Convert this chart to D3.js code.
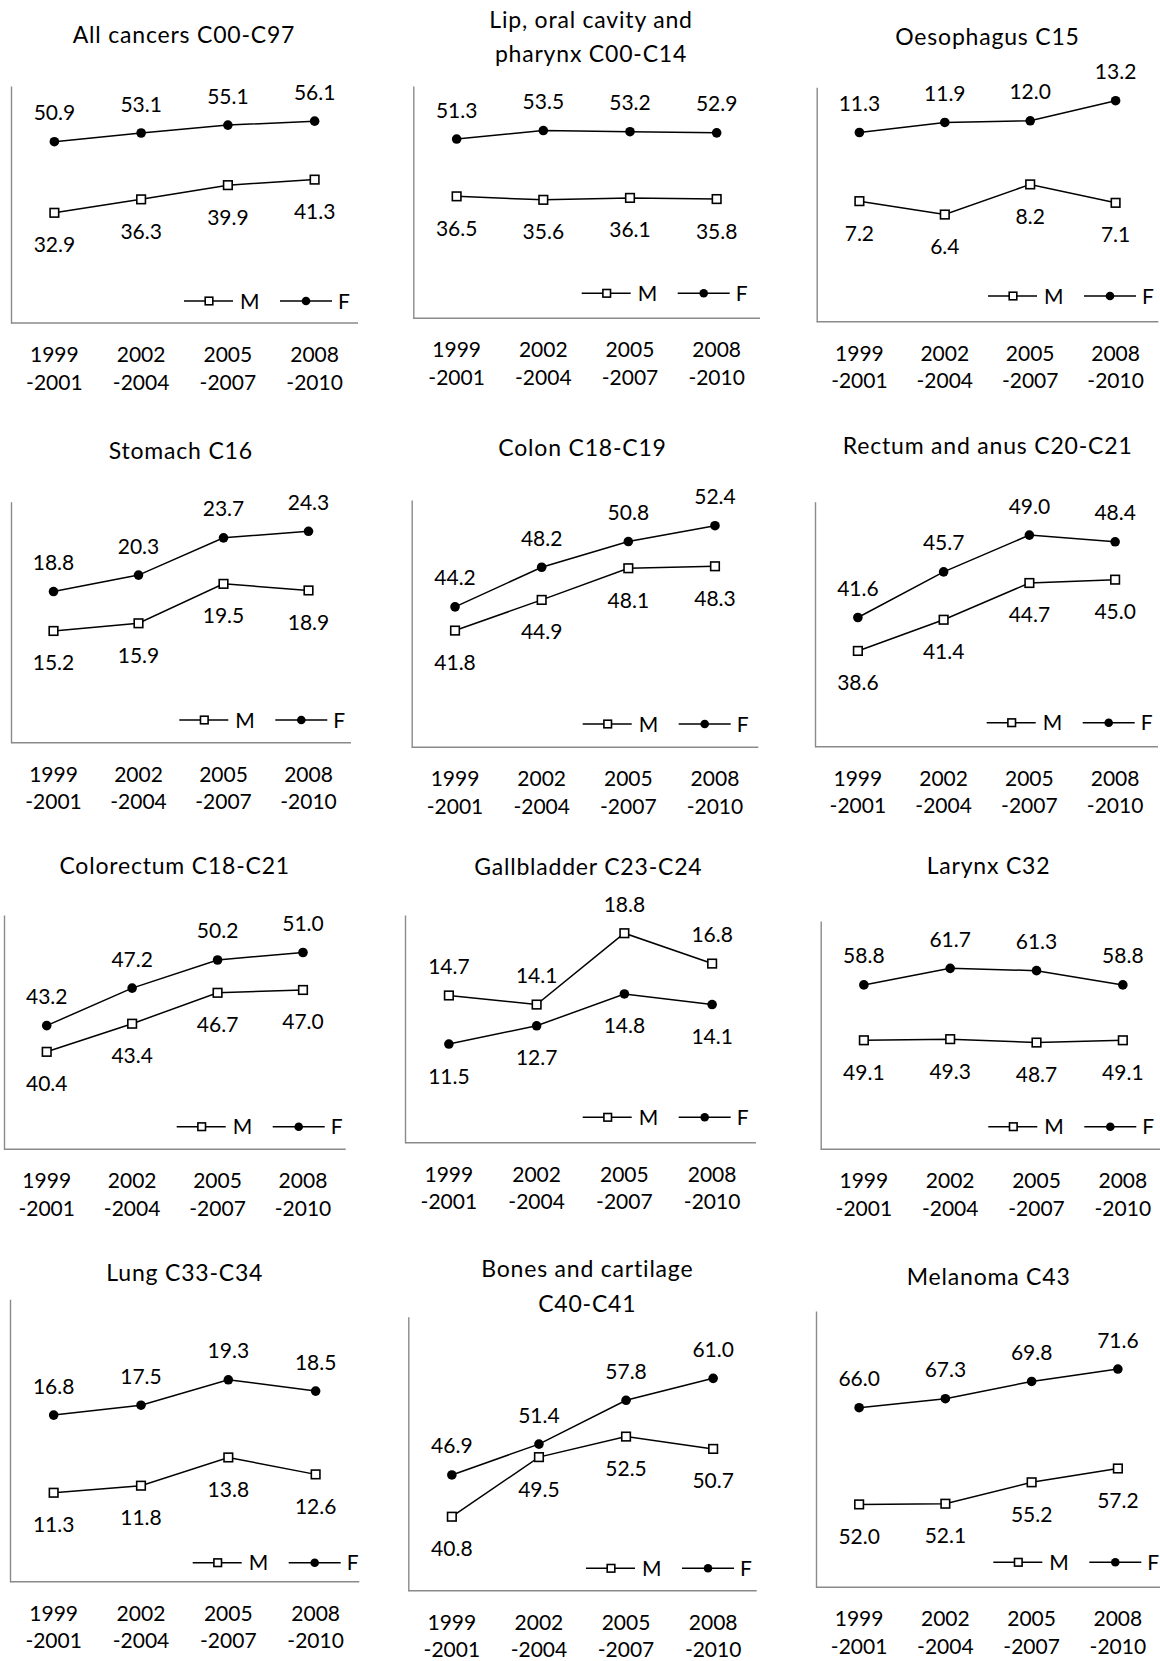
<!DOCTYPE html>
<html>
<head>
<meta charset="utf-8">
<script src="https://cdn.jsdelivr.net/npm/d3@7"></script>
<style>
  html, body { margin: 0; padding: 0; background: #fff; }
  svg { display: block; }
  text { font-family: Lato, "Open Sans", sans-serif; fill: #000; }
</style>
</head>
<body>
<svg id="chart" width="1160" height="1661"></svg>
<script>
// ---------- DATA ----------
const periods = ["1999-2001", "2002-2004", "2005-2007", "2008-2010"];
const tickLine1 = ["1999", "2002", "2005", "2008"];
const tickLine2 = ["-2001", "-2004", "-2007", "-2010"];
const seriesNames = ["M", "F"];

const siteTitles = [
  ["All cancers C00-C97"],
  ["Lip, oral cavity and", "pharynx C00-C14"],
  ["Oesophagus C15"],
  ["Stomach C16"],
  ["Colon C18-C19"],
  ["Rectum and anus C20-C21"],
  ["Colorectum C18-C21"],
  ["Gallbladder C23-C24"],
  ["Larynx C32"],
  ["Lung C33-C34"],
  ["Bones and cartilage", "C40-C41"],
  ["Melanoma C43"]
];

const maleValues = [
  [32.9, 36.3, 39.9, 41.3],
  [36.5, 35.6, 36.1, 35.8],
  [7.2, 6.4, 8.2, 7.1],
  [15.2, 15.9, 19.5, 18.9],
  [41.8, 44.9, 48.1, 48.3],
  [38.6, 41.4, 44.7, 45.0],
  [40.4, 43.4, 46.7, 47.0],
  [14.7, 14.1, 18.8, 16.8],
  [49.1, 49.3, 48.7, 49.1],
  [11.3, 11.8, 13.8, 12.6],
  [40.8, 49.5, 52.5, 50.7],
  [52.0, 52.1, 55.2, 57.2]
];

const femaleValues = [
  [50.9, 53.1, 55.1, 56.1],
  [51.3, 53.5, 53.2, 52.9],
  [11.3, 11.9, 12.0, 13.2],
  [18.8, 20.3, 23.7, 24.3],
  [44.2, 48.2, 50.8, 52.4],
  [41.6, 45.7, 49.0, 48.4],
  [43.2, 47.2, 50.2, 51.0],
  [11.5, 12.7, 14.8, 14.1],
  [58.8, 61.7, 61.3, 58.8],
  [16.8, 17.5, 19.3, 18.5],
  [46.9, 51.4, 57.8, 61.0],
  [66.0, 67.3, 69.8, 71.6]
];

const yDomains = [
  [5, 65], [5, 65], [0, 14],
  [5, 27], [30, 55], [30, 52],
  [30, 55], [5, 20], [30, 70],
  [5, 25], [30, 70], [40, 80]
];

// ---------- LAYOUT (positions only) ----------
const layout = [
  {L: 11,    R: 358,    T: 86,     B: 323,    tx: 184,   ty: [43],              lx: 184,   ly: 301},
  {L: 413.3, R: 760,    T: 86,     B: 318.3,  tx: 591,   ty: [28.3, 61.7],      lx: 581.7, ly: 293.3},
  {L: 816.7, R: 1158.3, T: 87.3,   B: 321.7,  tx: 987.5, ty: [45],              lx: 988,   ly: 296},
  {L: 11,    R: 351,    T: 501.7,  B: 742.7,  tx: 180.8, ty: [459],             lx: 179.3, ly: 720},
  {L: 411.7, R: 758.3,  T: 500,    B: 747.3,  tx: 582.5, ty: [456],             lx: 582.7, ly: 724},
  {L: 815,   R: 1158,   T: 501.7,  B: 746.7,  tx: 987.7, ty: [454.3],           lx: 986.7, ly: 722.7},
  {L: 4,     R: 345.7,  T: 915,    B: 1149.3, tx: 174.7, ty: [874.3],           lx: 176.7, ly: 1126.7},
  {L: 405,   R: 756,    T: 915,    B: 1142.7, tx: 588.3, ty: [875],             lx: 582.7, ly: 1117.3},
  {L: 820.7, R: 1166,   T: 921,    B: 1149.3, tx: 988.5, ty: [874.3],           lx: 988.3, ly: 1126.7},
  {L: 10,    R: 359.3,  T: 1299.3, B: 1581.7, tx: 184.8, ty: [1281],            lx: 192.7, ly: 1562.7},
  {L: 408.3, R: 756.7,  T: 1316.7, B: 1590.7, tx: 587.3, ty: [1277.3, 1311.7],  lx: 586,   ly: 1568.3},
  {L: 816,   R: 1161,   T: 1311,   B: 1587.3, tx: 988.7, ty: [1285],            lx: 993.3, ly: 1562.3}
];

const AXIS_COLOR = "#8a8a8a";
const LINE_COLOR = "#000";

// ---------- DRAW ----------
const svg = d3.select("#chart");

siteTitles.forEach((titleLines, i) => {
  const p = layout[i];
  const g = svg.append("g");
  const x = d3.scalePoint().domain(periods).range([p.L, p.R]).padding(0.5);
  const y = d3.scaleLinear().domain(yDomains[i]).range([p.B, p.T]);

  // title
  titleLines.forEach((t, k) => {
    g.append("text")
      .attr("x", p.tx).attr("y", p.ty[k])
      .attr("text-anchor", "middle")
      .style("font-size", "23px")
      .style("letter-spacing", "0.8px")
      .text(t);
  });

  // axes (lines only)
  const ax = g.append("g").attr("transform", `translate(0,${p.B})`)
    .call(d3.axisBottom(x).tickValues([]).tickSizeOuter(0));
  ax.select(".domain").attr("d", `M${p.L},0H${Math.min(p.R, 1160)}`);
  g.append("g").attr("transform", `translate(${p.L},0)`)
    .call(d3.axisLeft(y).tickValues([]).tickSizeOuter(0));
  g.selectAll(".domain").attr("stroke", AXIS_COLOR).attr("stroke-width", 1.4);

  // tick labels
  periods.forEach((c, j) => {
    const t = g.append("text")
      .attr("text-anchor", "middle")
      .style("font-size", "21px");
    t.append("tspan").attr("x", x(c)).attr("y", p.B + 39).text(tickLine1[j]);
    t.append("tspan").attr("x", x(c)).attr("y", p.B + 66.5).text(tickLine2[j]);
  });

  const mVals = maleValues[i], fVals = femaleValues[i];
  const mUpper = d3.mean(mVals) > d3.mean(fVals);
  const series = [
    {name: "M", vals: mVals, upper: mUpper},
    {name: "F", vals: fVals, upper: !mUpper}
  ];

  const line = d3.line().x((d, j) => x(periods[j])).y(d => y(d));

  series.forEach(s => {
    g.append("path")
      .attr("d", line(s.vals))
      .attr("fill", "none")
      .attr("stroke", LINE_COLOR)
      .attr("stroke-width", 1.5);

    s.vals.forEach((v, j) => {
      const cx = x(periods[j]), cy = y(v);
      if (s.name === "M") {
        g.append("rect")
          .attr("x", cx - 4.3).attr("y", cy - 4.3)
          .attr("width", 8.6).attr("height", 8.6)
          .attr("fill", "#fff").attr("stroke", "#000").attr("stroke-width", 1.6);
      } else {
        g.append("circle")
          .attr("cx", cx).attr("cy", cy).attr("r", 4.8)
          .attr("fill", "#000");
      }
      g.append("text")
        .attr("x", cx)
        .attr("y", s.upper ? cy - 21.5 : cy + 39.5)
        .attr("text-anchor", "middle")
        .style("font-size", "21px")
        .text(v.toFixed(1));
    });
  });

  // legend
  const lg = g.append("g").attr("transform", `translate(${p.lx},${p.ly})`);
  lg.append("line").attr("x1", 0).attr("x2", 49).attr("y1", 0).attr("y2", 0)
    .attr("stroke", "#000").attr("stroke-width", 1.5);
  lg.append("rect").attr("x", 25 - 3.8).attr("y", -3.8).attr("width", 7.6).attr("height", 7.6)
    .attr("fill", "#fff").attr("stroke", "#000").attr("stroke-width", 1.6);
  lg.append("text").attr("x", 56).attr("y", 7.5).style("font-size", "21px").text(seriesNames[0]);
  lg.append("line").attr("x1", 96).attr("x2", 148).attr("y1", 0).attr("y2", 0)
    .attr("stroke", "#000").attr("stroke-width", 1.5);
  lg.append("circle").attr("cx", 122).attr("cy", 0).attr("r", 4.3).attr("fill", "#000");
  lg.append("text").attr("x", 154).attr("y", 7.5).style("font-size", "21px").text(seriesNames[1]);
});
</script>
</body>
</html>
